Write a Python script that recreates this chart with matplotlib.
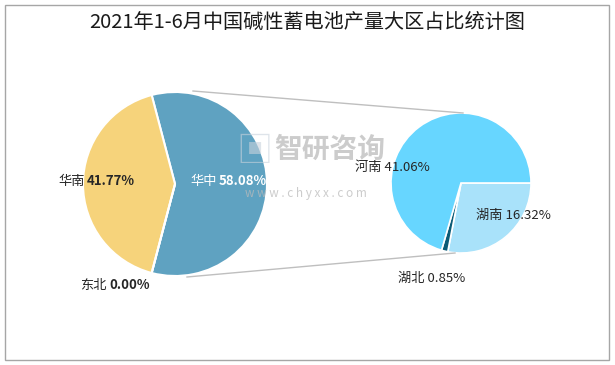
import matplotlib
matplotlib.use("Agg")
import matplotlib.pyplot as plt
from matplotlib.patches import Rectangle

plt.rcParams['font.family'] = ['Noto Sans CJK SC', 'DejaVu Sans']

title = "2021年1-6月中国碱性蓄电池产量大区占比统计图"

# main pie: regions
regions = ['华中', '华南', '东北']
region_share = [58.08, 41.77, 0.00]
region_colors = ['#5FA2C1', '#F6D37B', '#7A9FC4']

# sub pie: provinces of 华中
provinces = ['湖南', '湖北', '河南']
province_share = [16.32, 0.85, 41.06]
province_colors = ['#A9E2FA', '#0B5B76', '#67D6FF']

W, H = 615, 365
fig = plt.figure(figsize=(W / 100, H / 100), dpi=100)
ax = fig.add_axes([0, 0, 1, 1])

# outer frame
ax.add_patch(Rectangle((5, 5), 604, 355, fill=False, ec='#A6A6A6', lw=1))

# left pie, 华中 centred on the right side
c1, r1 = (175, H - 184), 92
start1 = -region_share[0] / sum(region_share) * 360 / 2
ax.pie(region_share, colors=region_colors, center=c1, radius=r1,
       startangle=start1, counterclock=True,
       wedgeprops=dict(edgecolor='white', linewidth=1.5), frame=True)

# right pie
c2, r2 = (461, H - 183), 70
ax.pie(province_share, colors=province_colors, center=c2, radius=r2,
       startangle=0, counterclock=False, explode=[0.045, 0, 0],
       wedgeprops=dict(edgecolor='white', linewidth=1.2), frame=True)
ax.set_xlim(0, W)
ax.set_ylim(0, H)
ax.set_aspect('equal')
ax.axis('off')

# connector lines
ax.plot([193, 463], [H - 91, H - 113], color='#BFBFBF', lw=1)
ax.plot([187, 455], [H - 277, H - 253], color='#BFBFBF', lw=1)

# watermark
ax.text(236, H - 152, '\u25A3', fontsize=26, color='#C9D3DD', alpha=0.6,
        ha='left', va='center')
ax.text(274, H - 150, '智研咨询', fontsize=20, color='#BBBBBB', alpha=0.75,
        ha='left', va='center', fontweight='bold')
ax.text(306, H - 193, 'w w w . c h y x x . c o m', fontsize=8.5,
        color='#BBBBBB', alpha=0.75, ha='center', va='center')

# labels
lab = dict(fontsize=9.5, va='center')
ax.text(58, H - 181, regions[1], color='#262626', **lab)
ax.text(87, H - 181, f'{region_share[1]:.2f}%', color='#262626',
        fontweight='bold', **lab)
ax.text(190, H - 181, regions[0], color='white', **lab)
ax.text(219, H - 181, f'{region_share[0]:.2f}%', color='white',
        fontweight='bold', **lab)
ax.text(80, H - 285, regions[2], color='#262626', **lab)
ax.text(109, H - 285, f'{region_share[2]:.2f}%', color='#262626',
        fontweight='bold', **lab)

ax.text(355, H - 167, f'{provinces[2]} {province_share[2]:.2f}%',
        color='#262626', **lab)
ax.text(476, H - 215, f'{provinces[0]} {province_share[0]:.2f}%',
        color='#262626', **lab)
ax.text(398, H - 278, f'{provinces[1]} {province_share[1]:.2f}%',
        color='#262626', **lab)

ax.text(307, H - 22, title, fontsize=14.5, color='#1A1A1A',
        ha='center', va='center')

fig.savefig('out.png', dpi=100)
